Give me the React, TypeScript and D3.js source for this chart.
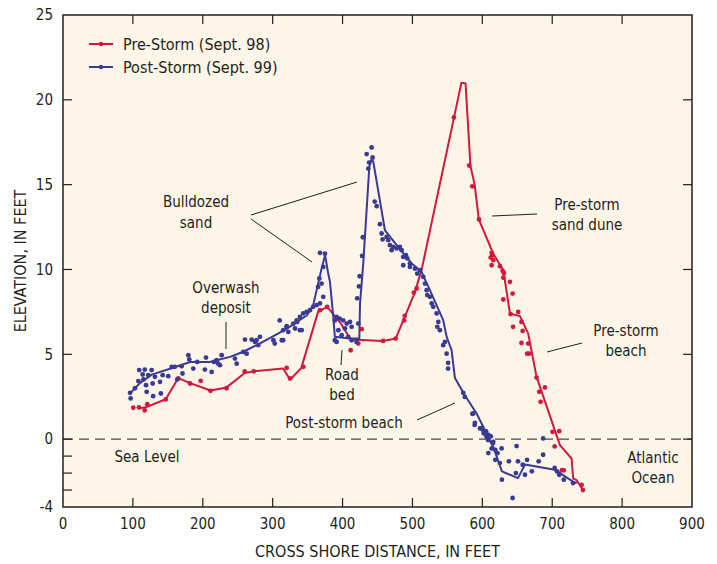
import React from 'react';
import * as d3 from 'd3';

// cross-shore profile, pre-storm (Sept. 98) and post-storm (Sept. 99)
const preLine: [number, number][] = [
  [108, 1.8], [120, 1.9], [147, 2.35], [165, 3.6], [182, 3.3], [211, 2.87], [234, 3.05],
  [260, 3.9], [273, 4.0], [315, 4.16], [325, 3.5], [341, 4.2], [365, 7.5], [378, 7.8],
  [396, 6.9], [412, 5.87], [458, 5.79], [476, 5.93], [489, 7.2], [503, 8.6], [513, 9.96],
  [570, 21.0], [576, 20.96], [583, 16.1], [589, 15.0], [595, 12.95], [615.6, 10.94],
  [630, 9.96], [639.5, 7.41], [654, 7.25], [665.6, 6.22], [677.6, 3.67], [708.6, -0.06],
  [711, -0.35], [727.7, -1.14], [730, -2.32], [735, -2.42], [744, -3.0],
];

const prePoints: [number, number][] = [
  [100.6, 1.85], [108.7, 1.87], [117, 1.7], [120.6, 2.06], [147, 2.34], [165, 3.58],
  [181.7, 3.28], [197, 3.44], [211, 2.85], [234, 3.0], [260, 4.0], [273, 4.0], [320, 4.2],
  [325, 3.58], [344, 4.26], [367.7, 7.6], [378, 7.8], [411.6, 5.24], [422.5, 5.63],
  [427.3, 6.48], [458, 5.79], [476, 5.93], [488, 7.0], [489, 7.27], [502, 8.64], [506, 8.88],
  [559.4, 18.96], [581.3, 16.13], [585.6, 14.9], [595.2, 12.95], [613.3, 10.98],
  [614.2, 10.84], [611.9, 10.7], [615.7, 10.55], [613.3, 10.25], [625.2, 10.19], [629, 9.92],
  [630.9, 9.8], [630, 9.52], [639.5, 9.27], [643.4, 8.58], [630, 8.23], [640.4, 7.37],
  [651.4, 7.5], [644, 6.62], [656, 6.91], [657.7, 6.38], [656, 5.67], [665.6, 5.63],
  [664.2, 5.04], [667, 5.04], [677.6, 3.63], [681.4, 2.79], [689.5, 3.05], [683.4, 2.2],
  [700.5, 0.43], [710, 0.47], [703.5, -0.43], [714, -1.83], [716.6, -1.84], [742, -2.7],
  [744, -3.0],
];

const postLine: [number, number][] = [
  [96, 2.7], [110, 3.3], [127, 3.8], [153, 4.15], [182, 4.55], [210, 4.55], [239, 4.85],
  [258, 5.15], [282, 5.65], [320, 6.5], [349, 7.3], [358, 7.9], [370, 10.06], [375, 10.84],
  [379.5, 9.76], [382, 9.27], [386.8, 7.17], [389, 6.03], [410, 5.93], [424, 5.93], [425, 8.0],
  [429.6, 10.35], [438.3, 16.05], [441.8, 16.54], [444, 16.34], [460.7, 12.3], [477.5, 11.43],
  [499, 10.35], [513, 9.86], [525, 8.78], [544, 7.01], [549, 6.03], [556, 5.24], [560.8, 3.6],
  [575, 2.59], [591.8, 1.51], [606, 0.33], [615.6, -0.45], [628, -1.9], [651, -2.3],
  [661, -1.5], [703.5, -1.8], [729.7, -2.5], [735, -2.6],
];

const postPoints: [number, number][] = [
  [96.8, 2.4], [96, 2.73], [103, 3.0], [107.8, 3.42], [109, 4.07], [114, 3.81], [115, 3.52],
  [117, 4.1], [118.8, 3.18], [119.7, 2.79], [122, 3.77], [126.8, 4.07], [128.3, 3.28],
  [129, 2.53], [131.6, 3.67], [138.8, 3.38], [140, 2.69], [142.6, 3.77], [150.6, 3.71],
  [155.5, 4.26], [160, 4.26], [163.5, 3.52], [169.7, 4.3], [171, 3.87], [179.3, 4.95],
  [180.7, 4.7], [186.4, 4.16], [192, 4.55], [203, 4.1], [204.6, 4.81], [212.7, 3.96],
  [216, 4.55], [222, 4.45], [219.8, 4.65], [224.6, 4.36], [227, 4.95], [246, 4.75],
  [248.5, 4.45], [258, 5.14], [262.8, 5.04], [260.4, 5.87], [270, 5.87], [277, 5.83],
  [274.7, 5.73], [279.4, 5.54], [281.8, 6.03], [301, 5.83], [303, 5.63], [310, 7.0],
  [315, 5.83], [320, 6.66], [322.4, 6.32], [335, 6.91], [341.5, 6.42], [367.7, 10.98],
  [374.8, 10.94], [372.4, 10.15], [366.8, 9.47], [370, 9.17], [365, 8.97], [372.4, 8.39],
  [367.7, 8.0], [363, 7.9], [358, 7.8], [353.4, 7.6], [348.6, 7.5], [343.8, 7.41], [339, 7.2],
  [334.3, 7.0], [329.5, 6.8], [320, 6.62], [315, 6.42], [313, 5.83], [332, 6.52], [339, 6.42],
  [389, 7.0], [391.5, 7.2], [396, 7.1], [401, 7.0], [406, 6.81], [410.6, 6.91], [413, 6.62],
  [403.4, 6.52], [394, 6.42], [398.7, 6.13], [408, 6.03], [413, 5.83], [389, 5.83],
  [391.5, 5.73], [420, 5.73], [422.5, 6.81], [421, 8.3], [423.5, 9.0], [424.5, 9.6],
  [428, 10.8], [429, 11.9], [434.5, 16.8], [441.6, 17.19], [436.8, 15.95], [438, 16.3],
  [443, 16.6], [446, 14.0], [448.8, 13.73], [453.5, 12.67], [455.9, 12.12], [457.3, 11.77],
  [463, 11.92], [465.4, 11.73], [467.8, 11.43], [470.2, 11.14], [472.5, 11.33], [477.4, 11.24],
  [482, 11.33], [484.5, 11.14], [486.8, 10.74], [490.7, 10.84], [492.6, 10.65], [496.4, 10.35],
  [486.8, 10.25], [496.4, 10.15], [503.6, 10.05], [506.9, 9.76], [510.7, 9.96], [515.5, 9.57],
  [518, 9.17], [520.3, 8.78], [521.2, 8.49], [525, 8.39], [527.5, 8.0], [529.8, 7.8],
  [534.6, 7.41], [537, 6.91], [535.6, 6.62], [539.3, 6.42], [546.5, 5.73], [548.9, 5.04],
  [551, 4.16], [544, 5.54], [551, 4.5], [572.7, 2.73], [575, 2.49], [587, 1.51], [589.4, 0.96],
  [585.7, 1.49], [589, 0.84], [596.6, 0.63], [598.8, 0.65], [601.3, 0.53], [602, 0.35],
  [603.7, 0.33], [605.4, 0.45], [606, 0.14], [608.6, 0.25], [610.9, 0.18], [612, 0.16],
  [608.4, -0.06], [615.6, -0.16], [615, -0.24], [613.3, -0.55], [618.5, -0.63], [608.6, -0.82],
  [621.7, -0.82], [618.5, -1.22], [625, -1.41], [627.6, -0.55], [628, -2.39], [638, -1.31],
  [643.3, -3.47], [648, -2.0], [649, -0.41], [651, -1.31], [657.7, -1.51], [661, -2.1],
  [664, -1.22], [670.8, -1.9], [680.6, -1.31], [687, -0.92], [687, 0.04], [703.5, -1.7],
  [706.8, -1.9], [710, -2.1], [716.6, -2.39], [729.7, -2.59],
];

const xTicks = [0, 100, 200, 300, 400, 500, 600, 700, 800, 900];
const yTicks = [-4, 0, 5, 10, 15, 20, 25];
const yMinorTicks = [-3, -2, -1];

const RED = '#d3173d';
const BLUE = '#383a93';
const INK = '#231f20';
const FONT = "'Liberation Sans Narrow', 'DejaVu Sans Condensed', 'Roboto', sans-serif";

export default function App() {
  const width = 717;
  const height = 564;
  const left = 63, right = 692, top = 15, bottom = 507;

  const x = d3.scaleLinear().domain([0, 900]).range([left, right]);
  const y = d3.scaleLinear().domain([-4, 25]).range([bottom, top]);
  const line = d3.line<[number, number]>().x((d) => x(d[0])).y((d) => y(d[1]));

  const tick = 9;

  return (
    <svg width={width} height={height} style={{ position: 'absolute', left: 0, top: 0, background: '#fff' }}
      fontFamily={FONT}>
      <rect x={left} y={top} width={right - left} height={bottom - top} fill="#fdf5e8" />

      {/* sea level */}
      <line x1={left} x2={right} y1={y(0)} y2={y(0)} stroke="#4a4a4a" strokeWidth={1.4} strokeDasharray="10 6" />

      {/* ticks */}
      {xTicks.slice(1, -1).map((t) => (
        <g key={'xt' + t} stroke={INK} strokeWidth={1.2}>
          <line x1={x(t)} x2={x(t)} y1={bottom} y2={bottom - tick} />
          <line x1={x(t)} x2={x(t)} y1={top} y2={top + tick} />
        </g>
      ))}
      {[0, 5, 10, 15, 20].map((t) => (
        <g key={'yt' + t} stroke={INK} strokeWidth={1.2}>
          <line x1={left} x2={left + tick} y1={y(t)} y2={y(t)} />
          <line x1={right} x2={right - tick} y1={y(t)} y2={y(t)} />
        </g>
      ))}
      {yMinorTicks.map((t) => (
        <line key={'ym' + t} x1={left} x2={left + tick} y1={y(t)} y2={y(t)} stroke={INK} strokeWidth={1.2} />
      ))}

      {/* profiles */}
      <path d={line(preLine) ?? ''} fill="none" stroke={RED} strokeWidth={2} strokeLinejoin="round" />
      <path d={line(postLine) ?? ''} fill="none" stroke={BLUE} strokeWidth={2} strokeLinejoin="round" />
      {prePoints.map((d, i) => (
        <circle key={'pp' + i} cx={x(d[0])} cy={y(d[1])} r={2.4} fill={RED} />
      ))}
      {postPoints.map((d, i) => (
        <circle key={'po' + i} cx={x(d[0])} cy={y(d[1])} r={2.4} fill={BLUE} />
      ))}

      {/* frame */}
      <rect x={left} y={top} width={right - left} height={bottom - top} fill="none" stroke={INK} strokeWidth={1.5} />

      {/* tick labels */}
      {xTicks.map((t) => (
        <text key={'xl' + t} x={x(t)} y={bottom + 22} textAnchor="middle" fontSize={15} fill={INK}>{t}</text>
      ))}
      {yTicks.map((t) => (
        <text key={'yl' + t} x={left - 10} y={y(t)} dy="0.35em" textAnchor="end" fontSize={15} fill={INK}>{t}</text>
      ))}

      {/* axis titles */}
      <text x={(left + right) / 2} y={557} textAnchor="middle" fontSize={16} fill={INK}>CROSS SHORE DISTANCE, IN FEET</text>
      <text transform={`translate(26,${(top + bottom) / 2}) rotate(-90)`} textAnchor="middle" fontSize={16} fill={INK}>ELEVATION, IN FEET</text>

      {/* legend */}
      <g fontSize={16} fill={INK}>
        <line x1={89} x2={113} y1={44} y2={44} stroke={RED} strokeWidth={2} />
        <circle cx={101} cy={44} r={2.2} fill={RED} />
        <text x={123} y={44} dy="0.35em">Pre-Storm (Sept. 98)</text>
        <line x1={89} x2={113} y1={67} y2={67} stroke={BLUE} strokeWidth={2} />
        <circle cx={101} cy={67} r={2.2} fill={BLUE} />
        <text x={123} y={67} dy="0.35em">Post-Storm (Sept. 99)</text>
      </g>

      {/* annotations */}
      <g fontSize={15} fill={INK} textAnchor="middle">
        <text x={196} y={207}>Bulldozed</text>
        <text x={196} y={228}>sand</text>
        <text x={226} y={293}>Overwash</text>
        <text x={226} y={313}>deposit</text>
        <text x={342} y={380}>Road</text>
        <text x={342} y={400}>bed</text>
        <text x={344} y={428}>Post-storm beach</text>
        <text x={587} y={210}>Pre-storm</text>
        <text x={587} y={230}>sand dune</text>
        <text x={626} y={336}>Pre-storm</text>
        <text x={626} y={356}>beach</text>
        <text x={147} y={462}>Sea Level</text>
        <text x={653} y={463}>Atlantic</text>
        <text x={653} y={483}>Ocean</text>
      </g>
      <g stroke={INK} strokeWidth={1}>
        <line x1={251} y1={215} x2={357} y2={182} />
        <line x1={251} y1={219} x2={312} y2={262} />
        <line x1={226} y1={322} x2={226} y2={349} />
        <line x1={342} y1={350} x2={341} y2={365} />
        <line x1={417} y1={420} x2={455} y2={403} />
        <line x1={492} y1={216} x2={537} y2={214} />
        <line x1={547} y1={352} x2={582} y2={343} />
      </g>
    </svg>
  );
}
